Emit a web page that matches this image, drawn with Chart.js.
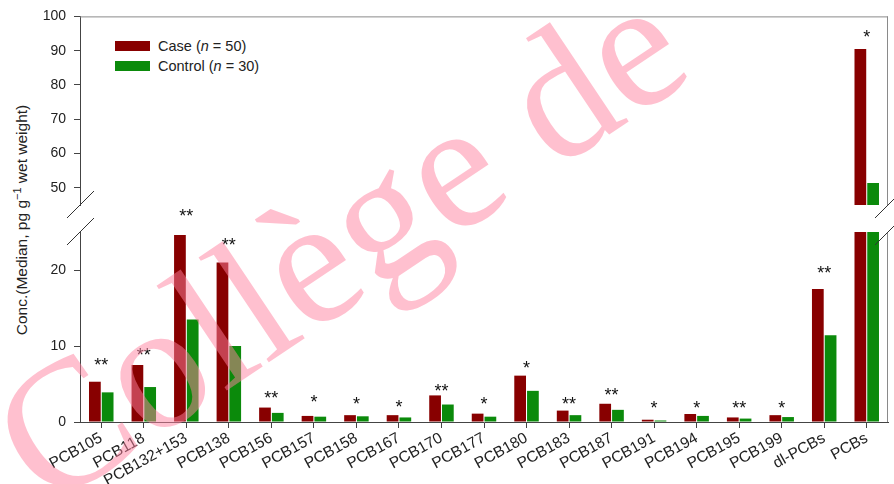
<!DOCTYPE html>
<html lang="en">
<head>
<meta charset="UTF-8">
<title>PCB concentrations, case vs control</title>
<script src="https://cdn.jsdelivr.net/npm/chart.js"></script>
<style>
  body { margin: 0; background: #fff; }
  #wrap { position: relative; width: 894px; height: 484px; overflow: hidden;
          font-family: "Liberation Sans", Arial, sans-serif; color: #222; }
  #wrap canvas { position: absolute; left: 0; top: 0; }
  .ytitle { position: absolute; left: 21px; top: 220px; transform: translate(-50%, -50%) rotate(-90deg);
            white-space: nowrap; font-size: 15.5px; }
  .ytitle sup { font-size: 11px; }
  .legend { position: absolute; left: 115px; top: 36px; font-size: 14.5px; }
  .legend div { display: flex; align-items: center; height: 20px; }
  .legend .box { display: inline-block; width: 35px; height: 10px; margin-right: 8px; }
</style>
</head>
<body>
<div id="wrap">
  <div class="ytitle">Conc.(Median, pg g<sup>&minus;1</sup> wet weight)</div>
  <div class="legend">
    <div><span class="box" style="background:#880000"></span>Case (<i>n</i>&nbsp;= 50)</div>
    <div><span class="box" style="background:#0b8a0b"></span>Control (<i>n</i>&nbsp;= 30)</div>
  </div>
  <canvas id="lowChart" width="894" height="484"></canvas>
  <canvas id="highChart" width="894" height="484"></canvas>
</div>

<script>
  // data
  const categories = ['PCB105', 'PCB118', 'PCB132+153', 'PCB138', 'PCB156', 'PCB157', 'PCB158', 'PCB167',
    'PCB170', 'PCB177', 'PCB180', 'PCB183', 'PCB187', 'PCB191', 'PCB194', 'PCB195', 'PCB199', 'dl-PCBs', 'PCBs'];
  const caseMedian = [5.3, 7.5, 24.6, 21.0, 1.9, 0.8, 0.9, 0.9, 3.5, 1.1, 6.1, 1.5, 2.4, 0.3, 1.05, 0.6, 0.9, 17.5, 90.5];
  const controlMedian = [3.9, 4.6, 13.5, 10.0, 1.2, 0.7, 0.75, 0.6, 2.3, 0.7, 4.1, 0.9, 1.6, 0.2, 0.8, 0.45, 0.65, 11.4, 51.4];
  const signif = ['**', '**', '**', '**', '**', '*', '*', '*', '**', '*', '*', '**', '**', '*', '*', '**', '*', '**', '*'];
  const signifAt = [7.9, 9.25, 27.5, 23.7, 3.55, 3.0, 2.8, 2.4, 4.5, 2.7, 7.5, 2.7, 3.9, 2.3, 2.3, 2.3, 2.2, 20.0, 95];
  const lowTicks = [0, 10, 20];
  const highTicks = [50, 60, 70, 80, 90, 100];

  const caseColor = '#880000';
  const controlColor = '#0b8a0b';
  const font = { family: '"Liberation Sans", Arial, sans-serif', size: 14 };

  // frame lines + axis break marks
  const axisFrame = {
    id: 'axisFrame',
    afterDraw(chart, args, opts) {
      const { ctx, chartArea: a } = chart;
      ctx.save();
      ctx.lineWidth = 1;
      ctx.strokeStyle = '#8a8a8a';
      ctx.beginPath();
      if (opts.top) { ctx.moveTo(a.left, a.top + 0.5); ctx.lineTo(a.right, a.top + 0.5); }
      ctx.moveTo(a.right - 0.5, a.top); ctx.lineTo(a.right - 0.5, a.bottom);
      ctx.stroke();
      const y = opts.breakAt === 'bottom' ? a.bottom : a.top;
      ctx.strokeStyle = '#333';
      ctx.beginPath();
      [a.left, a.right].forEach(x => { ctx.moveTo(x - 13, y + 13); ctx.lineTo(x + 14, y - 14); });
      ctx.stroke();
      ctx.restore();
    }
  };

  // significance asterisks
  const sigStars = {
    id: 'sigStars',
    afterDatasetsDraw(chart, args, opts) {
      const { ctx, scales: { x, y } } = chart;
      ctx.save();
      ctx.font = '18px "Liberation Sans", Arial, sans-serif';
      ctx.fillStyle = '#111';
      ctx.textAlign = 'center';
      signif.forEach((s, i) => {
        const v = signifAt[i];
        if (v < opts.from || v > opts.to) return;
        ctx.fillText(s, x.getPixelForValue(i), y.getPixelForValue(v) + 9);
      });
      ctx.restore();
    }
  };

  // pink watermark over the figure, fitted so the 'o' and the 'e' of 'de' land where they are in the scan
  const watermark = {
    id: 'watermark',
    afterDraw(chart) {
      const ctx = chart.ctx;
      const text = 'Collège de';
      const oAt = [162, 382], eAt = [640, 62];
      const fam = '"Liberation Serif", "DejaVu Serif", serif';
      const fit = size => {
        ctx.font = size + 'px ' + fam;
        const w = s => ctx.measureText(s).width;
        return { o: w('C') + w('o') / 2, e: w('Collège d') + w('e') / 2 };
      };
      ctx.save();
      const dx = eAt[0] - oAt[0], dy = eAt[1] - oAt[1];
      let m = fit(100);
      const size = 100 * Math.hypot(dx, dy) / (m.e - m.o);
      m = fit(size);
      const xh = ctx.measureText('o').actualBoundingBoxAscent / 2;
      ctx.translate(oAt[0], oAt[1]);
      ctx.rotate(Math.atan2(dy, dx));
      ctx.fillStyle = 'rgba(255, 130, 160, 0.5)';
      ctx.fillText(text, -m.o, xh);
      ctx.restore();
    }
  };

  function yAxis(min, max, ticks) {
    return {
      min: min, max: max,
      afterBuildTicks: s => { s.ticks = ticks.map(v => ({ value: v })); },
      afterFit: s => { s.width = 80; },
      grid: { drawOnChartArea: false, tickLength: 6, color: '#444' },
      border: { color: '#444' },
      ticks: { font: font, color: '#222', padding: 8 }
    };
  }

  function bars(filter) {
    return [
      { label: 'Case (n = 50)', data: caseMedian.map(filter), backgroundColor: caseColor,
        categoryPercentage: 0.6, barPercentage: 0.92 },
      { label: 'Control (n = 30)', data: controlMedian.map(filter), backgroundColor: controlColor,
        categoryPercentage: 0.6, barPercentage: 0.92 }
    ];
  }

  // lower segment 0-25
  new Chart(document.getElementById('lowChart'), {
    type: 'bar',
    data: { labels: categories, datasets: bars(v => v) },
    options: {
      responsive: false,
      animation: false,
      layout: { padding: { top: 232, right: 6, left: 0, bottom: 0 } },
      plugins: {
        legend: { display: false },
        tooltip: { enabled: false },
        axisFrame: { top: false, breakAt: 'top' },
        sigStars: { from: 0, to: 44 }
      },
      scales: {
        x: {
          afterFit: s => { s.height = 62; s.paddingLeft = 0; s.paddingRight = 0; },
          grid: { drawOnChartArea: false, offset: false, tickLength: 6, color: '#444' },
          border: { color: '#444' },
          ticks: { font: { family: font.family, size: 15.5 }, color: '#222', maxRotation: 29, minRotation: 29,
                   autoSkip: false, padding: 1 }
        },
        y: yAxis(0, 25, lowTicks)
      }
    },
    plugins: [axisFrame, sigStars]
  });

  // upper segment 45-100
  new Chart(document.getElementById('highChart'), {
    type: 'bar',
    data: { labels: categories, datasets: bars(v => (v >= 45 ? v : null)) },
    options: {
      responsive: false,
      animation: false,
      layout: { padding: { top: 15, right: 6, left: 0, bottom: 279 } },
      plugins: {
        legend: { display: false },
        tooltip: { enabled: false },
        axisFrame: { top: true, breakAt: 'bottom' },
        sigStars: { from: 45, to: 200 }
      },
      scales: {
        x: { display: false },
        y: yAxis(45, 100, highTicks)
      }
    },
    plugins: [axisFrame, sigStars, watermark]
  });
</script>
</body>
</html>
